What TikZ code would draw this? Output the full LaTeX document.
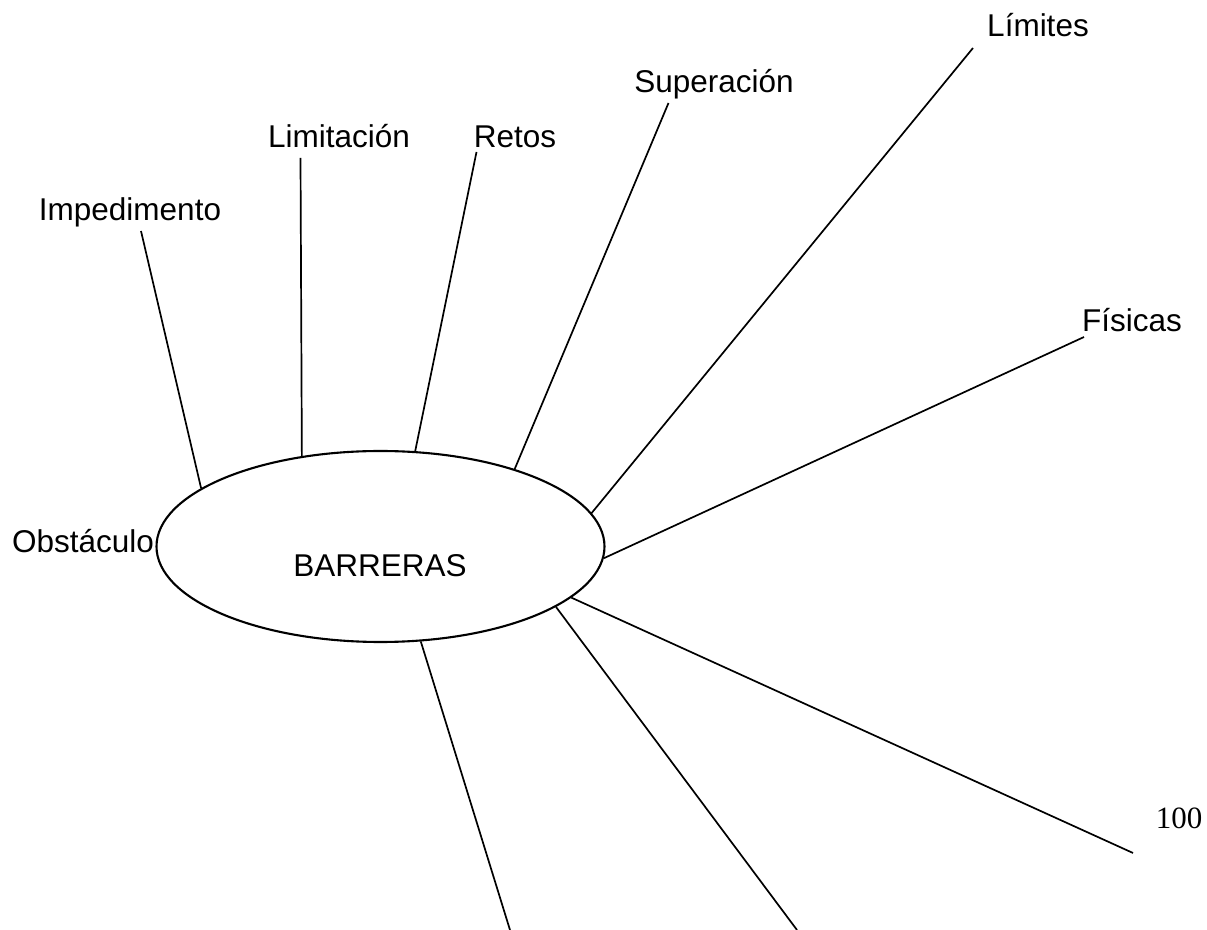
\documentclass[tikz,border=0pt]{standalone}
\usepackage{fontspec}
\setmainfont{Liberation Sans}
\newfontfamily\pagenumfont{Liberation Serif}
\usetikzlibrary{shapes.geometric}

\begin{document}
\begin{tikzpicture}[x=0.5pt,y=-0.5pt,
		word/.style={font=\fontsize{15.75}{18}\selectfont, anchor=base, inner sep=0pt},
		spoke/.style={line width=0.85pt}]
		\useasboundingbox (0,0) rectangle (1207,930);
		\node[draw, ellipse, line width=1.05pt, minimum width=224pt, minimum height=95.5pt, inner sep=0pt] (barreras) at (380.5,546.5) {};
		\node[word] (barrerastxt) at (380,577) {BARRERAS};
		\node[word] (obstaculo) at (83,553) {Obstáculo};
		\node[word] (impedimento) at (130,221) {Impedimento};
		\node[word] (limitacion) at (339,148) {Limitación};
		\node[word] (retos) at (515,148) {Retos};
		\node[word] (superacion) at (714,93) {Superación};
		\node[word] (limites) at (1038,37) {Límites};
		\node[word] (fisicas) at (1132,332) {Físicas};
		\node[word, font=\pagenumfont\fontsize{15.5}{18}\selectfont] (pagenum) at (1179,829) {100};
		\coordinate (imp) at (141,231);
		\coordinate (lim) at (300.5,158);
		\coordinate (ret) at (476.5,152);
		\coordinate (sup) at (668.5,103);
		\coordinate (lts) at (973,48);
		\coordinate (fis) at (1084,337);
		\coordinate (r1) at (1133,853);
		\coordinate (r2) at (797,930);
		\coordinate (r3) at (510,930);
		\draw[spoke] (barreras.162.5) -- (imp);
		\draw[spoke] (barreras.131.9) -- (lim);
		\draw[spoke] (barreras.70.7) -- (ret);
		\draw[spoke] (barreras.30.8) -- (sup);
		\draw[spoke] (barreras.9.9) -- (lts);
		\draw[spoke] (barreras.-3.7) -- (fis);
		\draw[spoke] (barreras.-15.3) -- (r1);
		\draw[spoke] (barreras.-19.3) -- (r2);
		\draw[spoke] (barreras.-67.2) -- (r3);
	\end{tikzpicture}
\end{document}
